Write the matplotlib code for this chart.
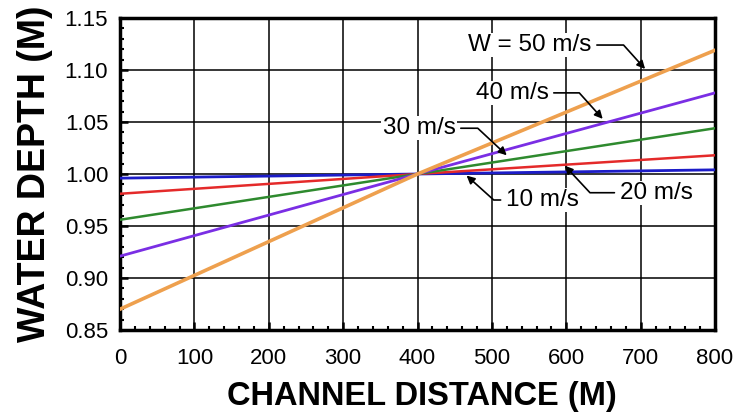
import matplotlib.pyplot as plt
import numpy as np

plt.rcParams['font.family'] = ['Liberation Sans', 'DejaVu Sans']

# channel distance (m) and water depth (m) for each wind speed
distance = [0, 400, 800]
depth_10 = [0.996, 1.000, 1.004]
depth_20 = [0.981, 1.000, 1.018]
depth_30 = [0.956, 1.000, 1.044]
depth_40 = [0.921, 1.000, 1.078]
depth_50 = [0.870, 1.000, 1.119]

series = [(depth_10, '#1c1cc8', 2.0),
          (depth_20, '#e42a2a', 1.8),
          (depth_30, '#2e8a2e', 1.8),
          (depth_40, '#7a2ee4', 2.0),
          (depth_50, '#eea04e', 2.6)]

labels = ['10 m/s', '20 m/s', '30 m/s', '40 m/s', 'W = 50 m/s']
label_xy = [(568, 0.975), (721, 0.982), (402, 1.044), (527, 1.078), (551, 1.124)]
arrow_xy = [(466, 0.9985), (598, 1.008), (520, 1.018), (649, 1.053), (706, 1.101)]
arrow_ang = [(0, 138), (0, 133), (0, -43), (0, -48), (0, -48)]

fig = plt.figure(figsize=(7.37, 4.17), dpi=100)
ax = fig.add_axes([120 / 737, 1 - 330 / 417, 595 / 737, 312 / 417])

ax.set_xlim(0, 800)
ax.set_ylim(0.85, 1.15)
ax.set_xticks(np.arange(0, 801, 100))
ax.set_yticks(np.arange(0.85, 1.151, 0.05))
ax.set_xticks(np.arange(0, 801, 20), minor=True)
ax.set_yticks(np.arange(0.85, 1.151, 0.01), minor=True)
ax.set_yticklabels(['%.2f' % v for v in np.arange(0.85, 1.151, 0.05)])
ax.grid(True, which='major', color='black', lw=1.1)
ax.set_axisbelow(True)

for d, c, lw in series:
    ax.plot(distance, d, color=c, lw=lw, zorder=3)

for lab, xy, tip, (a, b) in zip(labels, label_xy, arrow_xy, arrow_ang):
    ax.annotate(lab, xy=tip, xytext=xy, fontsize=17.5, ha='center', va='center',
                bbox=dict(boxstyle='square,pad=0.05', fc='white', ec='none'),
                arrowprops=dict(arrowstyle='-|>', color='black', lw=1.2,
                                mutation_scale=12, shrinkA=3, shrinkB=0,
                                connectionstyle='angle,angleA=%d,angleB=%d,rad=0' % (a, b)),
                zorder=5)

ax.tick_params(which='major', direction='in', length=6, width=1.8, labelsize=16,
               top=False, right=False)
ax.tick_params(axis='x', which='major', pad=13)
ax.tick_params(axis='y', which='major', pad=8.5)
ax.tick_params(which='minor', direction='in', length=3, width=1.5, top=False, right=False)
for s in ax.spines.values():
    s.set_linewidth(2.5)

fig.text(422 / 737, 1 - 405 / 417, 'CHANNEL DISTANCE (M)', fontsize=23.5,
         fontweight='bold', ha='center', va='baseline')
fig.text(45 / 737, 1 - 174 / 417, 'WATER DEPTH (M)', fontsize=27,
         fontweight='bold', rotation=90, rotation_mode='anchor',
         ha='center', va='baseline')

fig.savefig('out.png', dpi=100)
